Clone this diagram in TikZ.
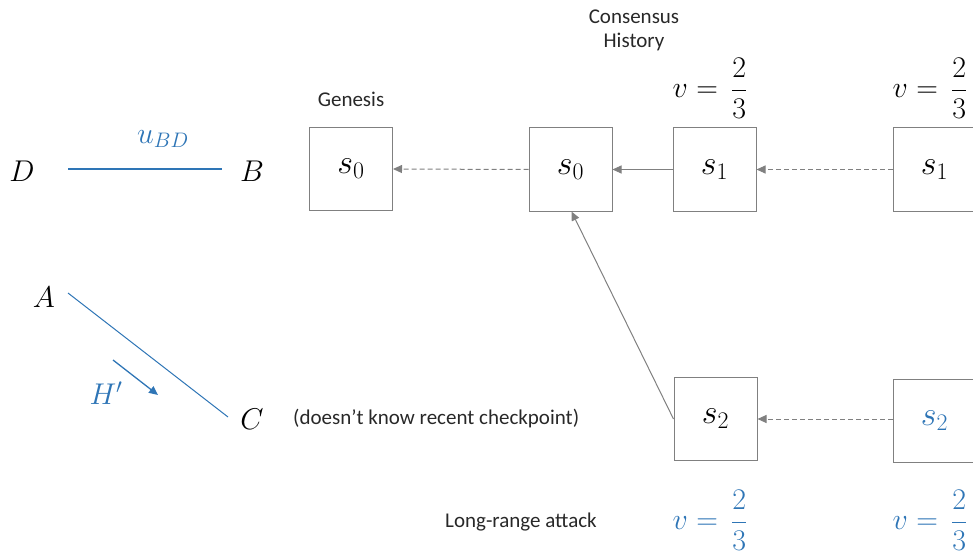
\RequirePackage{fix-cm}
\documentclass[tikz,border=0pt]{standalone}
\usepackage{amsmath}
\usepackage{fontspec}
\setmainfont{Carlito}
\usetikzlibrary{arrows.meta}
\definecolor{myblue}{RGB}{46,117,182}
\definecolor{mygray}{RGB}{128,128,128}
\definecolor{txtgray}{RGB}{40,40,40}
\tikzset{
  blk/.style={draw=mygray, line width=1pt, minimum width=83pt, minimum height=83pt, inner sep=0pt, fill=white},
  lbl/.style={inner sep=0pt, text=txtgray, font=\fontsize{21}{24}\selectfont},
  big/.style={inner sep=0pt, font=\fontsize{30}{33}\selectfont},
  inmath/.style={font=\fontsize{34}{36}\selectfont},
  link/.style={draw=mygray, line width=1pt, -{Triangle[length=9pt,width=8pt]}},
  dlink/.style={link, dash pattern=on 5pt off 3pt},
}
\begin{document}
\begin{tikzpicture}[x=1pt,y=-1pt]
\useasboundingbox (0,0) rectangle (973,556);
\clip (0,0) rectangle (973,556);
% left side graph
\node[big] (D) at (22,171) {$D$};
\node[big] (B) at (252,171) {$B$};
\node[big] (A) at (44,297) {$A$};
\node[big] (C) at (252,419) {$C$};
\coordinate (dl) at (68,169);
\coordinate (dr) at (222,169);
\draw[draw=myblue, line width=1.2pt] (dl) -- (dr);
\node[big, text=myblue] (u) at (163,139) {$u_{BD}$};
\coordinate (al) at (68,293);
\coordinate (cr) at (228,417);
\draw[draw=myblue, line width=1pt] (al) -- (cr);
\node[big, text=myblue] (H) at (106,393) {$H'$};
\coordinate (h1) at (113,360);
\coordinate (h2) at (158,395);
\draw[myblue, line width=1.3pt, -{Triangle[length=9pt,width=8pt]}] (h1) -- (h2);
\node[lbl, anchor=west] (dk) at (293,419) {(doesn’t know recent checkpoint)};
% chain
\node[blk, inmath] (g) at (351,169) {$s_0$};
\node[blk, inmath] (m) at (570.5,169.5) {$s_0$};
\node[blk, inmath] (s1) at (714.5,169.5) {$s_1$};
\node[blk, inmath] (s1r) at (934.5,169.5) {$s_1$};
\node[blk, inmath] (s2) at (715.5,419) {$s_2$};
\node[blk, inmath, text=myblue] (s2r) at (934.5,420.5) {$s_2$};
\draw[dlink] (m.west) -- (g.east);
\draw[link] (s1.west) -- (m.east);
\draw[dlink] (s1r.west) -- (s1.east);
\draw[link] (s2.west) -- ([xshift=1pt]m.south);
\draw[dlink] (s2r.west |- s2.east) -- (s2.east);
% labels
\node[lbl] (gen) at (351,99) {Genesis};
\node[lbl, align=center, font=\fontsize{21}{24}\selectfont] (ch) at (634,30) {Consensus\\History};
\node[big, inner sep=0pt] (v1) at (710,88) {$v=\,\dfrac{2}{3}$};
\node[big, inner sep=0pt] (v2) at (930,88) {$v=\,\dfrac{2}{3}$};
\node[big, inner sep=0pt, text=myblue] (v3) at (710,520) {$v=\,\dfrac{2}{3}$};
\node[big, inner sep=0pt, text=myblue] (v4) at (930,520) {$v=\,\dfrac{2}{3}$};
\node[lbl] (lr) at (521,522) {Long-range attack};
\end{tikzpicture}
\end{document}
